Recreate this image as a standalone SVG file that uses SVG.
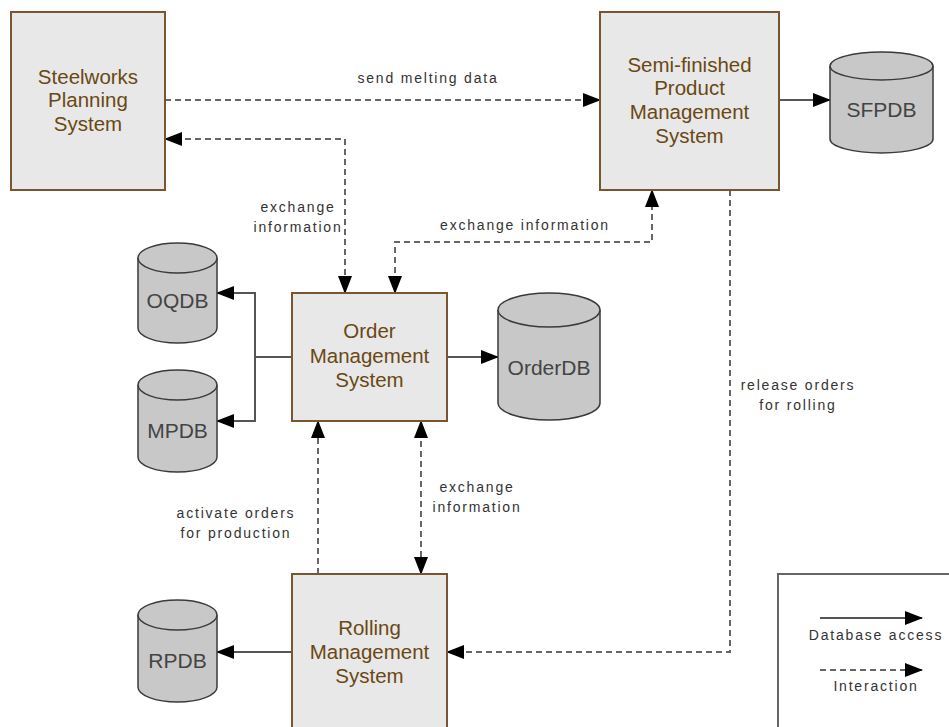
<svg xmlns="http://www.w3.org/2000/svg" width="949" height="727" viewBox="0 0 949 727">
<defs>
<marker id="ah" markerUnits="userSpaceOnUse" markerWidth="18" markerHeight="14" refX="17" refY="7" orient="auto-start-reverse" viewBox="0 0 18 14">
<path d="M0,0 L18,7 L0,14 Z" fill="#000"/>
</marker>
<style>
.box{fill:#e8e8e8;stroke:#7a5630;stroke-width:2}
.bt{font-family:"Liberation Sans",Arial,sans-serif;font-size:20.5px;fill:#6a4814;text-anchor:middle}
.cyl{fill:#c8c8c8;stroke:#3a3a3a;stroke-width:1.5}
.ct{font-family:"Liberation Sans",Arial,sans-serif;font-size:21px;fill:#444;text-anchor:middle}
.lbl{font-family:"Liberation Sans",Arial,sans-serif;font-size:14px;fill:#333;text-anchor:middle;letter-spacing:1.8px}
.db{fill:none;stroke:#555;stroke-width:2}
.ia{fill:none;stroke:#666;stroke-width:2;stroke-dasharray:6,4}
</style>
</defs>
<rect width="949" height="727" fill="#fff"/>

<g id="connectors">
<path class="ia" d="M165,100 H600" marker-end="url(#ah)"/>
<path class="ia" d="M165,139 H345 V293" marker-start="url(#ah)" marker-end="url(#ah)"/>
<path class="ia" d="M395,293 V242 H652 V190" marker-start="url(#ah)" marker-end="url(#ah)"/>
<path class="ia" d="M730,190 V652 H447" marker-end="url(#ah)"/>
<path class="ia" d="M318,574 V421" marker-end="url(#ah)"/>
<path class="ia" d="M421,421 V574" marker-start="url(#ah)" marker-end="url(#ah)"/>
<path class="db" d="M779,100 H830" marker-end="url(#ah)"/>
<path class="db" d="M447,357 H498" marker-end="url(#ah)"/>
<path class="db" d="M292,357 H255"/>
<path class="db" d="M255,357 V293 H217" marker-end="url(#ah)"/>
<path class="db" d="M255,357 V421 H217" marker-end="url(#ah)"/>
<path class="db" d="M292,652 H217" marker-end="url(#ah)"/>
<text class="lbl" x="428" y="83">send melting data</text>
<text class="lbl" x="298" y="212">exchange</text>
<text class="lbl" x="298" y="232">information</text>
<text class="lbl" x="525" y="230">exchange information</text>
<text class="lbl" x="798" y="390">release orders</text>
<text class="lbl" x="798" y="410">for rolling</text>
<text class="lbl" x="477" y="492">exchange</text>
<text class="lbl" x="477" y="512">information</text>
<text class="lbl" x="236" y="518">activate orders</text>
<text class="lbl" x="236" y="538">for production</text>
</g>

<g id="steelworks">
<rect class="box" x="11" y="12" width="154" height="178"/>
<text class="bt" x="88" y="84">Steelworks</text>
<text class="bt" x="88" y="107">Planning</text>
<text class="bt" x="88" y="131">System</text>
</g>

<g id="semifinished">
<rect class="box" x="600" y="12" width="179" height="178"/>
<text class="bt" x="689.5" y="72">Semi-finished</text>
<text class="bt" x="689.5" y="95">Product</text>
<text class="bt" x="689.5" y="119">Management</text>
<text class="bt" x="689.5" y="143">System</text>
</g>

<g id="order">
<rect class="box" x="292" y="293" width="155" height="128"/>
<text class="bt" x="369.5" y="338">Order</text>
<text class="bt" x="369.5" y="363">Management</text>
<text class="bt" x="369.5" y="387">System</text>
</g>

<g id="rolling">
<rect class="box" x="292" y="574" width="155" height="170"/>
<text class="bt" x="369.5" y="635">Rolling</text>
<text class="bt" x="369.5" y="659">Management</text>
<text class="bt" x="369.5" y="683">System</text>
</g>

<g id="sfpdb">
<path class="cyl" d="M830,66 A51.5,14 0 0 1 933,66 V139 A51.5,14 0 0 1 830,139 Z"/>
<path class="cyl" fill="none" d="M830,66 A51.5,14 0 0 0 933,66"/>
<text class="ct" x="881.5" y="117">SFPDB</text>
</g>

<g id="oqdb">
<path class="cyl" d="M138,258 A39.5,15 0 0 1 217,258 V328 A39.5,15 0 0 1 138,328 Z"/>
<path class="cyl" d="M138,258 A39.5,15 0 0 0 217,258"/>
<text class="ct" x="177.5" y="308">OQDB</text>
</g>

<g id="mpdb">
<path class="cyl" d="M138,385 A39.5,15 0 0 1 217,385 V457 A39.5,15 0 0 1 138,457 Z"/>
<path class="cyl" d="M138,385 A39.5,15 0 0 0 217,385"/>
<text class="ct" x="177.5" y="438">MPDB</text>
</g>

<g id="orderdb">
<path class="cyl" d="M498,310 A51,17 0 0 1 600,310 V403 A51,17 0 0 1 498,403 Z"/>
<path class="cyl" d="M498,310 A51,17 0 0 0 600,310"/>
<text class="ct" x="549" y="375">OrderDB</text>
</g>

<g id="rpdb">
<path class="cyl" d="M138,615 A39.5,15 0 0 1 217,615 V687 A39.5,15 0 0 1 138,687 Z"/>
<path class="cyl" d="M138,615 A39.5,15 0 0 0 217,615"/>
<text class="ct" x="177.5" y="668">RPDB</text>
</g>

<g id="legend">
<rect x="778" y="574" width="190" height="170" fill="#fff" stroke="#666" stroke-width="2"/>
<path class="db" d="M820,618 H922" marker-end="url(#ah)"/>
<text class="lbl" x="876" y="640">Database access</text>
<path class="ia" d="M820,670 H922" marker-end="url(#ah)"/>
<text class="lbl" x="876" y="691">Interaction</text>
</g>
</svg>
